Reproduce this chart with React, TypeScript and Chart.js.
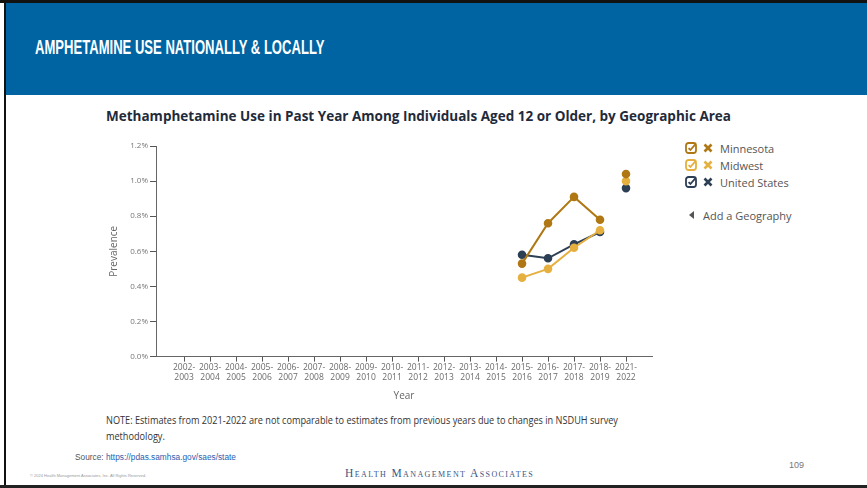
import React, { useEffect, useRef } from "react";
import { Chart, registerables } from "chart.js";

Chart.register(...registerables);

const categories = [
  "2002-2003", "2003-2004", "2004-2005", "2005-2006", "2006-2007", "2007-2008",
  "2008-2009", "2009-2010", "2010-2011", "2011-2012", "2012-2013", "2013-2014",
  "2014-2015", "2015-2016", "2016-2017", "2017-2018", "2018-2019", "2021-2022",
];
const dataYears = ["2015-2016", "2016-2017", "2017-2018", "2018-2019", "2021-2022"];
const minnesota = [0.53, 0.76, 0.91, 0.78, 1.04];
const midwest = [0.45, 0.5, 0.62, 0.72, 1.0];
const unitedStates = [0.58, 0.56, 0.64, 0.71, 0.96];
const yTicks = [0, 0.2, 0.4, 0.6, 0.8, 1.0, 1.2];

const seriesNames = ["Minnesota", "Midwest", "United States"];
const seriesColors = ["#B07814", "#E6B041", "#2C3F55"];
const seriesValues = [minnesota, midwest, unitedStates];

const TICK_FONT = "'Open Sans', 'Noto Sans', sans-serif";

function CheckIcon({ color }: { color: string }) {
  return (
    <svg width="12" height="12" viewBox="0 0 12 12">
      <rect x="1" y="1" width="10" height="10" rx="2.5" fill="none" stroke={color} strokeWidth="1.8" />
      <path d="M3.6 6.2 L5.4 8 L10.5 2.2" fill="none" stroke={color} strokeWidth="1.8" />
    </svg>
  );
}
function XIcon({ color }: { color: string }) {
  return (
    <svg width="10" height="10" viewBox="0 0 10 10">
      <path d="M1.5 1.5 L8.5 8.5 M8.5 1.5 L1.5 8.5" stroke={color} strokeWidth="2.6" />
    </svg>
  );
}

export default function App() {
  const canvasRef = useRef<HTMLCanvasElement | null>(null);

  useEffect(() => {
    document.body.style.margin = "0";
    const ctx = canvasRef.current;
    if (!ctx) return;
    const startYear = (s: string) => parseInt(s.split("-")[0], 10);
    const datasets = seriesNames.map((name, si) => ({
      label: name,
      data: dataYears.map((yr, i) => ({ x: categories.indexOf(yr), y: seriesValues[si][i] })),
      borderColor: seriesColors[si],
      backgroundColor: seriesColors[si],
      pointBackgroundColor: seriesColors[si],
      pointBorderColor: seriesColors[si],
      pointRadius: 3.3,
      borderWidth: 2,
      tension: 0,
      segment: {
        borderColor: (c: any) =>
          startYear(dataYears[c.p1DataIndex]) - startYear(dataYears[c.p0DataIndex]) > 1
            ? "rgba(0,0,0,0)"
            : seriesColors[si],
      },
    }));
    const chart = new Chart(ctx, {
      type: "line",
      data: { datasets },
      options: {
        animation: false,
        responsive: false,
        maintainAspectRatio: false,
        layout: { padding: { top: 10, right: 8, left: 8, bottom: 0 } },
        plugins: { legend: { display: false }, tooltip: { enabled: false } },
        scales: {
          x: {
            type: "linear",
            min: -1.08,
            max: 18.0,
            afterBuildTicks: (scale: any) => {
              scale.ticks = categories.map((_, i) => ({ value: i }));
            },
            ticks: {
              autoSkip: false,
              maxRotation: 0,
              minRotation: 0,
              padding: 1,
              color: "#6b6b6b",
              font: { family: TICK_FONT, size: 8.5 },
              callback: (v: any) => {
                const s = categories[Math.round(v)];
                if (!s) return "";
                const parts = s.split("-");
                return [parts[0] + "-", parts[1]];
              },
            },
            grid: { drawOnChartArea: false, drawTicks: true, tickLength: 5, color: "#555", lineWidth: 1 },
            border: { display: true, color: "#666", width: 1 },
            title: {
              display: true,
              text: "Year",
              color: "#666",
              font: { family: TICK_FONT, size: 10 },
              padding: { top: 6, bottom: 0 },
            },
          },
          y: {
            min: 0,
            max: 1.2,
            afterBuildTicks: (scale: any) => {
              scale.ticks = yTicks.map((v) => ({ value: v }));
            },
            afterFit: (scale: any) => {
              scale.width = 48;
            },
            ticks: {
              color: "#777",
              padding: 2,
              font: { family: TICK_FONT, size: 8 },
              callback: (v: any) => Number(v).toFixed(1) + "%",
            },
            grid: { drawOnChartArea: false, drawTicks: true, tickLength: 6, color: "#555", lineWidth: 1 },
            border: { display: true, color: "#666", width: 1 },
            title: {
              display: true,
              text: "Prevalence",
              color: "#666",
              font: { family: TICK_FONT, size: 10 },
              padding: { top: 0, bottom: 6 },
            },
          },
        },
      },
    } as any);
    return () => chart.destroy();
  }, []);

  return (
    <div style={{ position: "absolute", left: 0, top: 0, width: 867, height: 488, background: "#fff", overflow: "hidden" }}>
      {/* frame */}
      <div style={{ position: "absolute", left: 0, top: 0, width: 867, height: 3, background: "#111" }} />
      <div style={{ position: "absolute", left: 4, top: 0, width: 2, height: 488, background: "#111" }} />
      <div style={{ position: "absolute", left: 0, top: 485, width: 867, height: 3, background: "#222" }} />
      {/* header */}
      <div style={{ position: "absolute", left: 6, top: 3, width: 861, height: 92, background: "#0064A2" }} />
      <div
        style={{
          position: "absolute", left: 35, top: 36, color: "#fff",
          fontFamily: "'Liberation Sans', Arial, sans-serif", fontWeight: 700, fontSize: 19.5,
          whiteSpace: "nowrap", transformOrigin: "0 0", transform: "scaleX(0.67)", lineHeight: "22px",
        }}
      >
        AMPHETAMINE USE NATIONALLY &amp; LOCALLY
      </div>
      {/* chart title */}
      <div
        style={{
          position: "absolute", left: 106, top: 106, color: "#1F2B3B",
          fontFamily: "'Open Sans', 'Noto Sans', sans-serif", fontWeight: 700, fontSize: 14,
          whiteSpace: "nowrap", transformOrigin: "0 0", transform: "scaleX(0.965)", lineHeight: "20px",
        }}
      >
        Methamphetamine Use in Past Year Among Individuals Aged 12 or Older, by Geographic Area
      </div>
      <canvas
        ref={canvasRef}
        width={560}
        height={266}
        style={{ position: "absolute", left: 100, top: 136, width: 560, height: 266 }}
      />
      {/* legend */}
      {seriesNames.map((n, i) => (
        <div key={n} style={{ position: "absolute", left: 685, top: 141 + i * 17, height: 14, display: "flex", alignItems: "center" }}>
          <CheckIcon color={seriesColors[i]} />
          <div style={{ width: 6 }} />
          <XIcon color={seriesColors[i]} />
          <div style={{ width: 7 }} />
          <span style={{ fontFamily: TICK_FONT, fontSize: 11, color: "#555", whiteSpace: "nowrap" }}>{n}</span>
        </div>
      ))}
      <div style={{ position: "absolute", left: 689, top: 208, height: 14, display: "flex", alignItems: "center" }}>
        <svg width="6" height="8" viewBox="0 0 6 8"><path d="M5 0 L0 4 L5 8 Z" fill="#555" /></svg>
        <div style={{ width: 8 }} />
        <span style={{ fontFamily: TICK_FONT, fontSize: 11, color: "#555", whiteSpace: "nowrap" }}>Add a Geography</span>
      </div>
      {/* note */}
      <div
        style={{
          position: "absolute", left: 106, top: 412, color: "#333",
          fontFamily: "'Open Sans', 'Noto Sans', sans-serif", fontSize: 10, lineHeight: "16px",
          whiteSpace: "nowrap", transformOrigin: "0 0", transform: "scaleX(0.915)",
        }}
      >
        NOTE: Estimates from 2021-2022 are not comparable to estimates from previous years due to changes in NSDUH survey
        <br />
        methodology.
      </div>
      {/* source */}
      <div
        style={{
          position: "absolute", left: 75, top: 452, fontFamily: "'Liberation Sans', Arial, sans-serif",
          fontSize: 8.3, color: "#555", whiteSpace: "nowrap",
        }}
      >
        Source: <span style={{ color: "#2A5DB0" }}>https://pdas.samhsa.gov/saes/state</span>
      </div>
      <div
        style={{
          position: "absolute", left: 30, top: 473, fontFamily: "'Liberation Sans', Arial, sans-serif",
          fontSize: 4, color: "#999", whiteSpace: "nowrap",
        }}
      >
        © 2024 Health Management Associates, Inc. All Rights Reserved.
      </div>
      <div
        style={{
          position: "absolute", left: 345, top: 467, fontFamily: "'Liberation Serif', 'DejaVu Serif', serif",
          fontSize: 11.5, color: "#3B5685", whiteSpace: "nowrap", fontVariant: "small-caps", letterSpacing: 1.4,
        }}
      >
        Health Management Associates
      </div>
      <div
        style={{
          position: "absolute", left: 789, top: 460, fontFamily: "'Liberation Sans', Arial, sans-serif",
          fontSize: 9, color: "#777", whiteSpace: "nowrap",
        }}
      >
        109
      </div>
    </div>
  );
}
